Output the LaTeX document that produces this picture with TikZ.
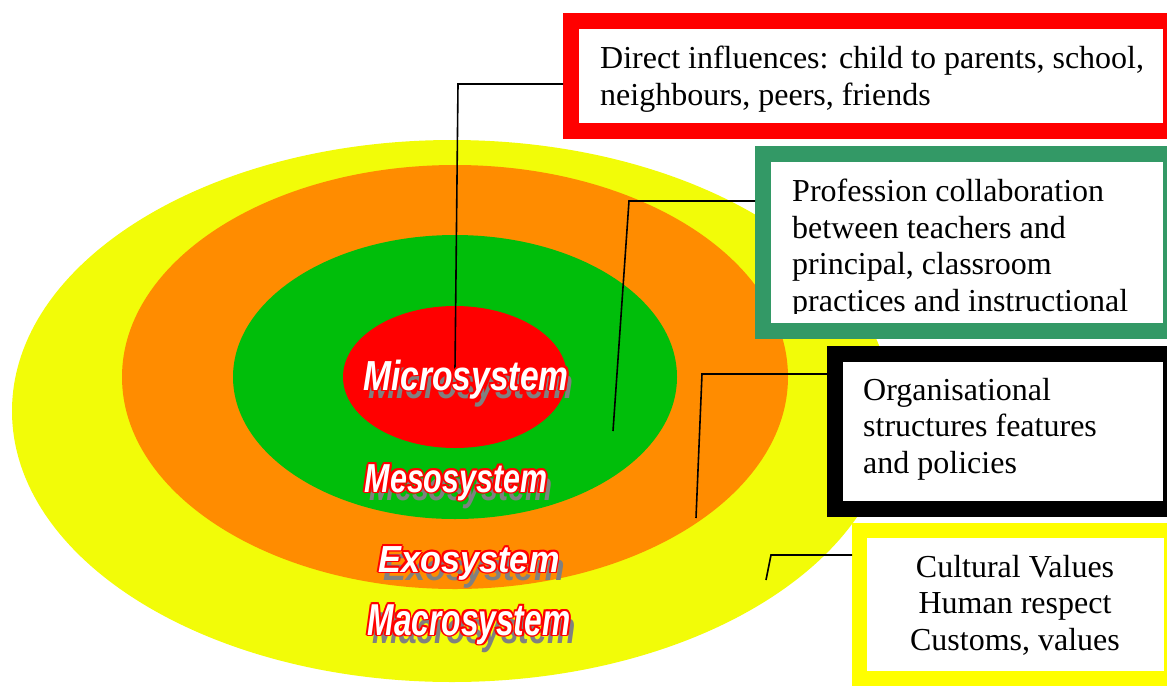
\documentclass[tikz,border=0pt]{standalone}
\usepackage{fontspec}
\usepackage{graphicx}
\setmainfont{Liberation Serif}
\newfontfamily\ringfont{Liberation Sans}
\usetikzlibrary{positioning}
\definecolor{ringyellow}{RGB}{242,252,8}
\definecolor{ringorange}{RGB}{255,140,0}
\definecolor{ringgreen}{RGB}{0,190,10}
\definecolor{ringred}{RGB}{255,0,0}
\definecolor{boxgreen}{RGB}{51,153,102}
\definecolor{boxyellow}{RGB}{255,255,0}
\definecolor{shadowgray}{RGB}{128,128,128}
\tikzset{
  infobox/.style={
    draw,
    fill=white,
    anchor=north west,
    inner sep=0pt
  },
  boxtext/.style={
    anchor=north west,
    align=left,
    inner sep=0pt,
    font=\fontsize{32}{36.5}\selectfont
  },
  link/.style={
    draw=black,
    line width=1.6pt
  },
  ringtext/.style={
    inner sep=0pt,
    anchor=base,
    font=\ringfont\bfseries\itshape\fontsize{#1}{#1}\selectfont
  }
}
\newcommand\ringlabel[5]{%
  \coordinate (#1-c) at #2;
  \node[ringtext=#3,text=shadowgray] (#1-sh) at ([shift={(5,8)}]#1-c) {\scalebox{#4}[1]{#5}};
  \foreach \ang in {0,45,...,315}
    \node[ringtext=#3,text=ringred] (#1-o\ang) at ([shift={(\ang:1.9)}]#1-c) {\scalebox{#4}[1]{#5}};
  \node[ringtext=#3,text=white] (#1) at (#1-c) {\scalebox{#4}[1]{#5}};
}

\begin{document}
\begin{tikzpicture}[x=1pt,y=-1pt]
\useasboundingbox (0,0) rectangle (1167,686);
\clip (0,0) rectangle (1167,686);
% rings
\fill[ringyellow] (452,411) ellipse [x radius=440, y radius=271];
\fill[ringorange] (455,377) ellipse [x radius=333, y radius=212];
\fill[ringgreen] (455,377) ellipse [x radius=222, y radius=142];
\fill[ringred] (455,377) ellipse [x radius=112, y radius=71];
% boxes
\node[infobox,draw=ringred,line width=15.5pt,minimum width=600pt,minimum height=110pt] (rbox) at (563,13) {};
\node[infobox,draw=boxgreen,line width=16pt,minimum width=408pt,minimum height=177pt] (gbox) at (755,146) {};
\node[infobox,draw=black,line width=16pt,minimum width=336pt,minimum height=155pt] (kbox) at (827,346) {};
\node[infobox,draw=boxyellow,line width=15pt,minimum width=312pt,minimum height=148pt] (ybox) at (852,523) {};
\node[boxtext] (rtext) at (600,46) {Direct influences: child to parents, school,\\neighbours, peers, friends};
\begin{scope}
  \clip (772,163) rectangle (1163,313);
  \node[boxtext] (gtext) at (792,179) {Profession collaboration\\between teachers and\\principal, classroom\\practices and instructional};
\end{scope}
\node[boxtext] (ktext) at (863,378) {Organisational\\structures features\\and policies};
\node[boxtext,align=center,anchor=north] (ytext) at (1015,555) {Cultural Values\\Human respect\\Customs, values};
% connectors
\coordinate (micbend) at (458,84);
\coordinate (micend) at (455,369);
\coordinate (mesbend) at (629,201);
\coordinate (mesend) at (613,431);
\coordinate (exobend) at (702,374);
\coordinate (exoend) at (696,518);
\coordinate (macbend) at (771,555);
\coordinate (macend) at (766,580);
\draw[link] (rbox.west |- micbend) -- (micbend) -- (micend);
\draw[link] (gbox.west |- mesbend) -- (mesbend) -- (mesend);
\draw[link] (kbox.west |- exobend) -- (exobend) -- (exoend);
\draw[link] (ybox.west |- macbend) -- (macbend) -- (macend);
% ring labels
\ringlabel{micro}{(466,390)}{42}{0.8}{Microsystem}
\ringlabel{meso}{(456,492)}{40.5}{0.75}{Mesosystem}
\ringlabel{exo}{(469,572)}{37.7}{0.91}{Exosystem}
\ringlabel{macro}{(469,635)}{44.7}{0.71}{Macrosystem}
\end{tikzpicture}
\end{document}
